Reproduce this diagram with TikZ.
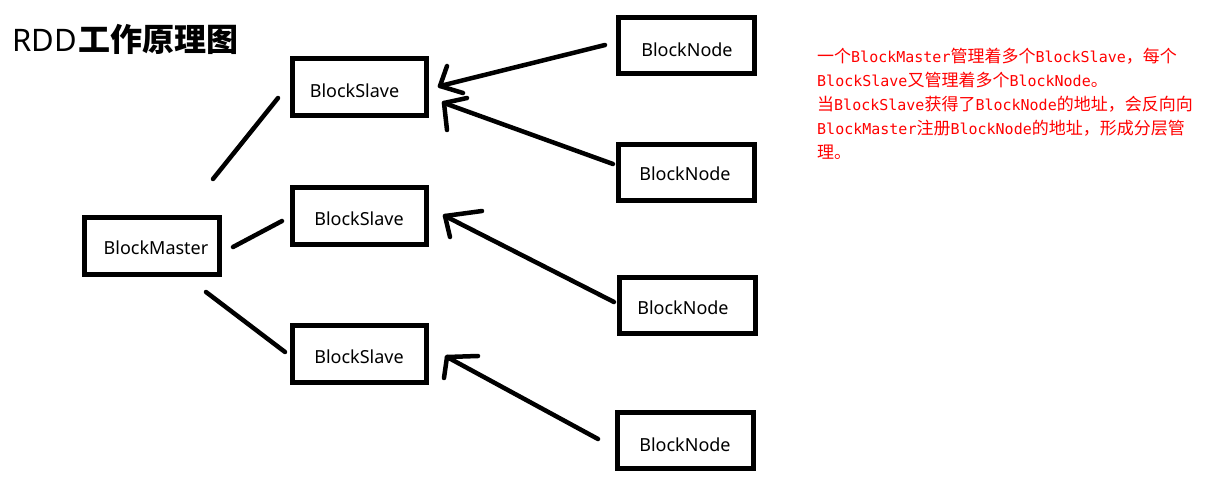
\documentclass[tikz,border=0pt]{standalone}
\usepackage{fontspec}
\setmainfont{Noto Sans}
\newfontfamily\cjk{Noto Sans CJK SC}
\newfontfamily\latmono{DejaVu Sans Mono}
\newcommand{\zh}[1]{{\cjk\fontsize{17}{20}\selectfont #1}}
\newcommand{\lat}[1]{{\latmono\fontsize{15}{20}\selectfont #1}}
\definecolor{notered}{RGB}{255,0,0}
\begin{document}
\begin{tikzpicture}[x=1pt,y=-1pt,
  box/.style={draw,line width=5pt,inner sep=0pt,rectangle},
  masterbox/.style={box,minimum width=135pt,minimum height=57pt},
  slavebox/.style={box,minimum width=134pt,minimum height=57pt},
  nodebox/.style={box,minimum width=136pt,minimum height=56pt},
  lbl/.style={font=\fontsize{18}{20}\selectfont,inner sep=0pt,anchor=base},
  conn/.style={line width=4.5pt,line cap=round,line join=round},
  note/.style={text=notered,inner sep=0pt,anchor=base west}]
\useasboundingbox (0,0) rectangle (1213,498);
\fill[white] (0,0) rectangle (1213,498);

% title
\node[inner sep=0pt,anchor=base west] (title) at (12,51)
  {\fontsize{31}{34}\selectfont RDD\hspace{2pt}{\cjk\bfseries\fontsize{32}{34}\selectfont 工作原理图}};

% boxes
\node[masterbox] (master) at (152,246) {};
\node[slavebox] (s1) at (359.5,87) {};
\node[slavebox] (s2) at (359.5,215.5) {};
\node[slavebox] (s3) at (359.5,354) {};
\node[nodebox] (n1) at (686,45) {};
\node[nodebox] (n2) at (686,172) {};
\node[nodebox] (n3) at (687.5,305.5) {};
\node[nodebox] (n4) at (685,440) {};

% labels
\node[lbl] (tm) at (156,254) {BlockMaster};
\node[lbl] (ts1) at (354.5,97) {BlockSlave};
\node[lbl] (ts2) at (359,225) {BlockSlave};
\node[lbl] (ts3) at (359,363) {BlockSlave};
\node[lbl] (tn1) at (687,56) {BlockNode};
\node[lbl] (tn2) at (685,180) {BlockNode};
\node[lbl] (tn3) at (683,314) {BlockNode};
\node[lbl] (tn4) at (685,451) {BlockNode};

% connector end points (hand-drawn lines stop short of the boxes)
\coordinate (m1a) at (213,179);  \coordinate (m1b) at (278,98);
\coordinate (m2a) at (233,247);  \coordinate (m2b) at (282,221);
\coordinate (m3a) at (206,292);  \coordinate (m3b) at (285,352);

\coordinate (a1t) at (605,45);   \coordinate (a1h) at (440,86);
\coordinate (a1p) at (447,66);   \coordinate (a1q) at (463,93);
\coordinate (a2t) at (613,164);  \coordinate (a2h) at (444,103);
\coordinate (a2p) at (467,98);   \coordinate (a2q) at (447,130);
\coordinate (a3t) at (614,302);  \coordinate (a3h) at (445,216);
\coordinate (a3p) at (482,211);  \coordinate (a3q) at (450,237);
\coordinate (a4t) at (598,439);  \coordinate (a4h) at (447,357);
\coordinate (a4p) at (478,356);  \coordinate (a4q) at (444,378);

% master to slaves
\draw[conn] (m1a) -- (m1b);
\draw[conn] (m2a) -- (m2b);
\draw[conn] (m3a) -- (m3b);

% nodes to slaves (hand-drawn arrows)
\draw[conn] (a1t) -- (a1h);  \draw[conn] (a1p) -- (a1h) -- (a1q);
\draw[conn] (a2t) -- (a2h);  \draw[conn] (a2p) -- (a2h) -- (a2q);
\draw[conn] (a3t) -- (a3h);  \draw[conn] (a3p) -- (a3h) -- (a3q);
\draw[conn] (a4t) -- (a4h);  \draw[conn] (a4p) -- (a4h) -- (a4q);

% note
\node[note] (l1) at (817,62) {\zh{一个}\lat{BlockMaster}\zh{管理着多个}\lat{BlockSlave}\zh{，每个}};
\node[note] (l2) at (817,86) {\lat{BlockSlave}\zh{又管理着多个}\lat{BlockNode}\zh{。}};
\node[note] (l3) at (817,110) {\zh{当}\lat{BlockSlave}\zh{获得了}\lat{BlockNode}\zh{的地址，会反向向}};
\node[note] (l4) at (817,134) {\lat{BlockMaster}\zh{注册}\lat{BlockNode}\zh{的地址，形成分层管}};
\node[note] (l5) at (817,158) {\zh{理。}};
\end{tikzpicture}
\end{document}
